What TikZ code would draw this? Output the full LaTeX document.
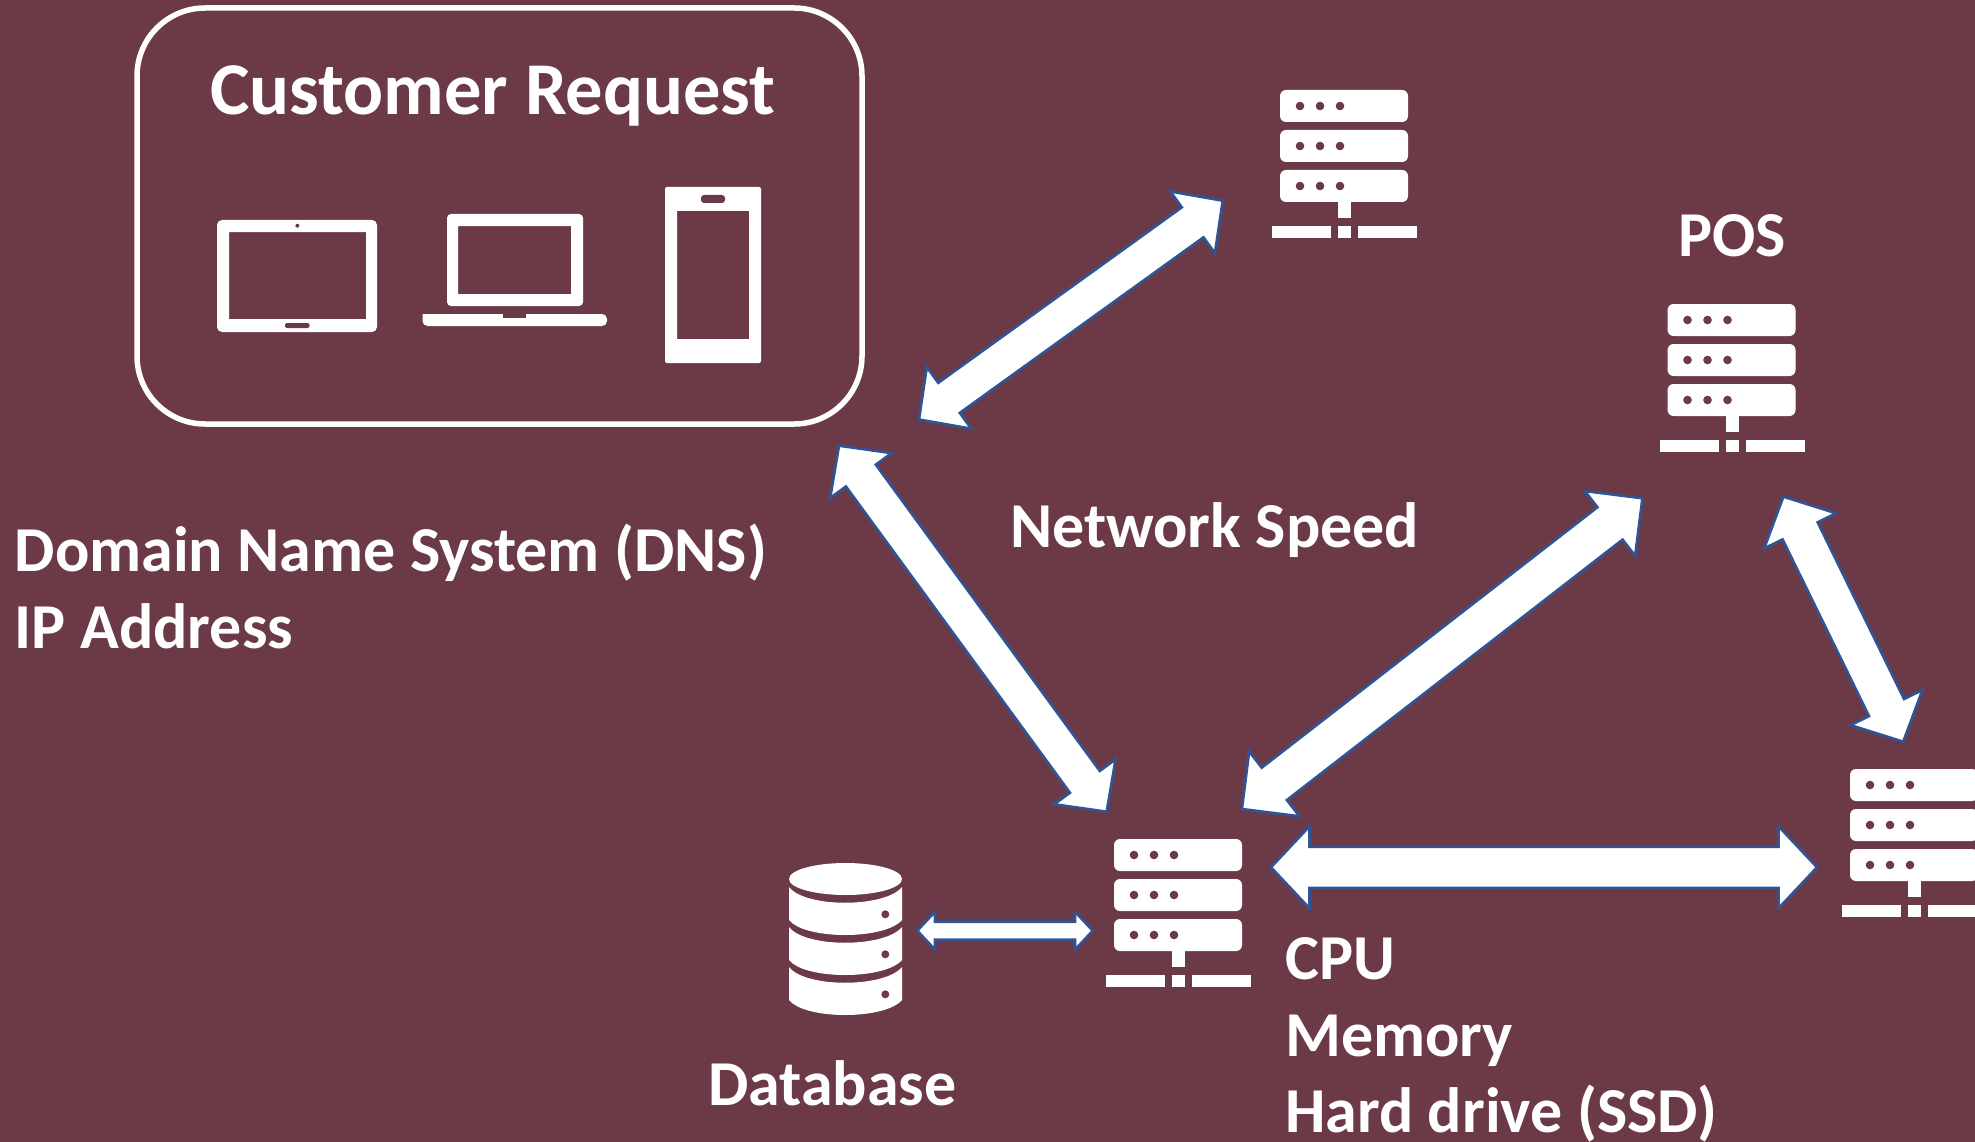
\documentclass[tikz,border=0pt]{standalone}
\usepackage{fontspec}
\usepackage{tikz}
\usetikzlibrary{calc}
\setmainfont{Carlito}

\definecolor{slidebg}{HTML}{6B3A46}
\definecolor{arrowblue}{HTML}{2F5597}

\tikzset{
  label/.style={text=white, font=\fontsize{64}{64}\selectfont\bfseries, anchor=base west, inner sep=0pt},
  icon/.style={fill=white},
  hole/.style={fill=slidebg},
  flow/.style={draw=arrowblue, fill=white, line width=2.6pt, miter limit=10},
  pics/rack/.style={code={
    \foreach \y in {0,40,80} {
      \fill[icon, rounded corners=6pt] (0,\y) rectangle (128,\y+32);
      \foreach \x in {20,40,60}
        \fill[hole] (\x,\y+16) circle (4.3pt);
    }
    \fill[icon] (58,112) rectangle (71,128);
    \fill[icon] (-8,136) rectangle (51,148);
    \fill[icon] (58,136) rectangle (71,148);
    \fill[icon] (78,136) rectangle (137,148);
  }}
}

% double headed block arrow: from, to, head length, head half width, shaft half width
\newcommand{\flowarrow}[5]{
  \draw[flow] let \p1=($(#2)-(#1)$), \n1={atan2(\y1,\x1)} in
    (#1) -- ($(#1)+(\n1:#3pt)+(\n1+90:#4pt)$) -- ($(#1)+(\n1:#3pt)+(\n1+90:#5pt)$)
    -- ($(#2)+(\n1:-#3pt)+(\n1+90:#5pt)$) -- ($(#2)+(\n1:-#3pt)+(\n1+90:#4pt)$)
    -- (#2) -- ($(#2)+(\n1:-#3pt)+(\n1-90:#4pt)$) -- ($(#2)+(\n1:-#3pt)+(\n1-90:#5pt)$)
    -- ($(#1)+(\n1:#3pt)+(\n1-90:#5pt)$) -- ($(#1)+(\n1:#3pt)+(\n1-90:#4pt)$) -- cycle;
}

\begin{document}
\begin{tikzpicture}[x=1pt, y=-1pt]
    \clip (0,0) rectangle (1975,1142);
    \fill[slidebg] (0,0) rectangle (1975,1142);

    % Customer box and its devices
    \draw[white, line width=5.5pt, rounded corners=68pt] (137,8) rectangle (862,424);
    \node[label, font=\fontsize{74.5}{74.5}\selectfont\bfseries] (customer) at (210,115) {Customer Request};

    \fill[icon, rounded corners=5pt, even odd rule] (217,220) rectangle (377,332)
        [sharp corners] (229,232) rectangle (366,319);
    \fill[hole] (297.4,225.7) circle (2pt);
    \fill[hole, rounded corners=2pt] (285,323) rectangle (309.5,328);

    \fill[icon, rounded corners=4pt, even odd rule] (447,214) -- (583,214) -- (583,306) -- (447,306) -- cycle
        [sharp corners] (458,226) rectangle (571,294);
    \fill[icon, rounded corners=5pt] (422.5,314) -- (422.5,326) -- (607,326) -- (607,314) [sharp corners] -- cycle;
    \fill[hole] (503,314) rectangle (526,317.7);

    \fill[icon, rounded corners=2pt, even odd rule] (665,187) rectangle (761,363)
        [sharp corners] (677,211) rectangle (749,339);
    \fill[hole, rounded corners=3pt] (701,195) rectangle (725,203);

    % Servers
    \pic at (1280,90) {rack};
    \pic at (1667.5,304) {rack};
    \pic at (1114,839) {rack};
    \pic at (1850,769) {rack};

    % Database
    \fill[icon] (845.5,879) ellipse (56.5pt and 16pt);
    \foreach \y in {0,40,80} {
      \begin{scope}[shift={(0,\y)}]
        \fill[icon] (789,887) .. controls (805,908) and (885,908) .. (902,887) -- (902,920)
            .. controls (885,940) and (805,940) .. (789,920) -- cycle;
        \fill[hole] (885.3,914.3) circle (4pt);
      \end{scope}
    }

    % Ends of the arrows
    \coordinate (custA) at (919,419.5);
    \coordinate (topsrv) at (1222.7,200.7);
    \coordinate (custB) at (839,445.7);
    \coordinate (mainA) at (1106.7,811.7);
    \coordinate (mainB) at (1241.9,809);
    \coordinate (pos) at (1642.4,498.3);
    \coordinate (posB) at (1783.4,496.7);
    \coordinate (rightA) at (1903.2,741.7);
    \coordinate (mainC) at (1271,867.3);
    \coordinate (rightB) at (1817,867.3);
    \coordinate (dbEnd) at (917.3,930.7);
    \coordinate (mainD) at (1092.7,930.7);

    \flowarrow{custA}{topsrv}{37}{38}{18.5}
    \flowarrow{custB}{mainA}{37}{38}{18.5}
    \flowarrow{mainB}{pos}{41}{41}{20.5}
    \flowarrow{posB}{rightA}{38}{40}{19.5}
    \flowarrow{mainC}{rightB}{38.5}{41}{20.5}
    \flowarrow{dbEnd}{mainD}{17.7}{19}{9}

    % Labels
    \node[label] (dns) at (14.5,571) {Domain Name System (DNS)};
    \node[label] (ip) at (14.5,648) {IP Address};
    \node[label] (speed) at (1010,547) {Network Speed};
    \node[label] (posname) at (1678,256) {POS};
    \node[label] (dbname) at (708,1105) {Database};
    \node[label] (cpu) at (1285,979) {CPU};
    \node[label] (memory) at (1285,1056) {Memory};
    \node[label] (ssd) at (1285,1132) {Hard drive (SSD)};
\end{tikzpicture}
\end{document}
